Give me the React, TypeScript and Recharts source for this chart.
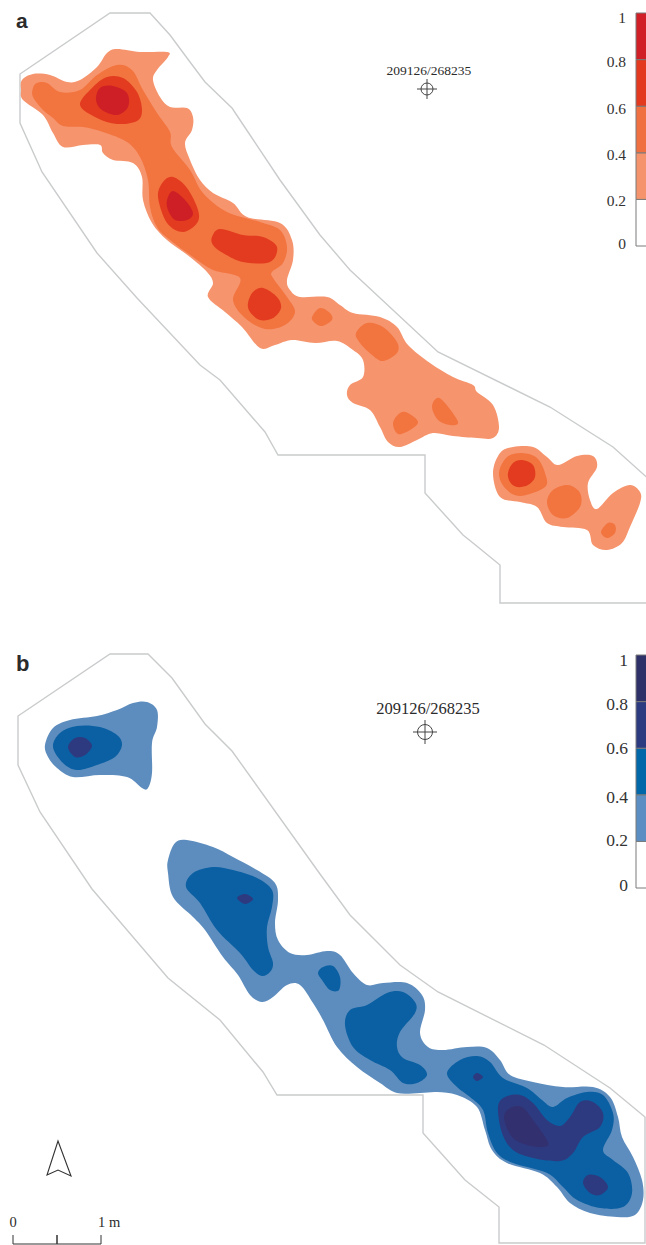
import { Bar, BarChart, Scatter, ScatterChart, XAxis, YAxis } from 'recharts';

type Pt = [number, number];

const WIDTH = 646;
const HEIGHT = 1245;

// legend
const levelKeys = ['l0', 'l1', 'l2', 'l3', 'l4'];
const levelWidths = [0.2, 0.2, 0.2, 0.2, 0.2];
const levelTicks = [0, 0.2, 0.4, 0.6, 0.8, 1];
const ORANGES = ['#FFFFFF', '#F5946C', '#F17042', '#E2391F', '#D01F27'];
const BLUES = ['#FFFFFF', '#5B8FC3', '#0068A8', '#2C3A80', '#2E3068'];
const mapColorsA = ['#F6946D', '#F2743F', '#E23B1F', '#CE1F26'];
const mapColorsB = ['#5D8DBE', '#0A60A2', '#2E3A80', '#33306F'];

// survey outlines
const outlineA: Pt[] = [
  [20, 74], [110, 13], [150, 13], [170, 35], [190, 62], [205, 82], [232, 108], [250, 135], [280, 180], [320, 235],
  [350, 270], [438, 352], [550, 407], [613, 447], [652, 482], [652, 603], [500, 603], [500, 565], [473, 543], [463, 535],
  [425, 493], [425, 455], [278, 455], [265, 432], [220, 380], [200, 365], [137, 298], [97, 253], [42, 172], [20, 123],
];
const outlineB: Pt[] = [
  [18, 716], [110, 654], [148, 654], [172, 678], [205, 724], [232, 751], [320, 874], [350, 915], [400, 965], [438, 992],
  [544, 1045], [610, 1088], [645, 1117], [645, 1243], [499, 1243], [499, 1207], [465, 1180], [423, 1133], [423, 1095],
  [277, 1095], [263, 1072], [220, 1020], [168, 978], [92, 889], [40, 812], [18, 765],
];

// panel a contours
const aLight1: Pt[] = [
  [22, 80], [33, 74], [50, 75], [67, 82], [80, 80], [97, 67], [107, 53], [117, 49], [140, 52], [167, 52], [168, 57], [157, 70],
  [153, 80], [160, 97], [170, 107], [187, 108], [193, 117], [192, 130], [185, 143], [190, 160], [200, 180], [213, 193], [233, 203],
  [247, 217], [280, 223], [292, 240], [293, 260], [287, 280], [290, 290], [300, 297], [327, 297], [340, 305], [353, 313], [380, 317],
  [397, 327], [408, 345], [430, 363], [453, 377], [473, 385], [477, 392], [493, 405], [499, 427], [493, 438], [477, 438], [453, 436],
  [433, 433], [417, 440], [400, 447], [388, 442], [380, 427], [370, 410], [353, 403], [347, 395], [350, 385], [363, 377], [363, 360],
  [353, 350], [337, 341], [315, 343], [292, 340], [275, 345], [260, 348], [242, 327], [225, 312], [208, 297], [213, 283],
  [207, 272], [190, 257], [167, 240], [152, 223], [143, 200], [142, 177], [133, 163], [113, 160], [103, 153], [100, 145], [83, 145],
  [63, 147], [53, 133], [43, 115], [23, 100], [21, 90],
];
const aLight2: Pt[] = [
  [493, 473], [500, 453], [513, 447], [533, 447], [547, 457], [558, 465], [577, 456], [593, 456], [597, 467], [588, 483], [590, 500],
  [597, 509], [613, 493], [630, 485], [640, 492], [640, 503], [630, 527], [622, 543], [607, 550], [593, 545], [587, 530], [563, 527],
  [547, 523], [537, 507], [520, 502], [500, 497],
];
const aMid1: Pt[] = [
  [33, 88], [37, 83], [47, 83], [60, 92], [80, 90], [97, 75], [117, 65], [132, 70], [143, 90], [157, 113], [170, 132], [172, 147],
  [190, 170], [203, 193], [227, 212], [260, 222], [280, 230], [287, 247], [283, 263], [272, 272], [273, 278], [287, 297], [295, 312],
  [285, 325], [265, 329], [245, 318], [233, 300], [240, 278], [213, 270], [193, 257], [170, 240], [157, 227], [150, 207],
  [148, 180], [140, 157], [127, 142], [103, 132], [83, 127], [63, 126], [53, 118], [43, 110], [33, 97],
];
const aMid2: Pt[] = [[312, 317], [320, 308], [330, 313], [332, 320], [322, 326], [315, 323]];
const aMid3: Pt[] = [[356, 333], [367, 323], [383, 327], [397, 342], [397, 353], [383, 361], [372, 355], [360, 343]];
const aMid4: Pt[] = [[393, 423], [400, 413], [408, 413], [418, 422], [410, 430], [398, 434]];
const aMid5: Pt[] = [[432, 407], [437, 398], [445, 403], [458, 422], [450, 425], [438, 420]];
const aMid6: Pt[] = [[499, 473], [507, 457], [522, 453], [537, 458], [545, 473], [545, 487], [520, 496], [505, 488]];
const aMid7: Pt[] = [[547, 502], [553, 490], [568, 485], [580, 493], [580, 507], [567, 518], [553, 515]];
const aMid8: Pt[] = [[601, 532], [608, 523], [615, 525], [615, 533], [607, 538]];
const aHigh1: Pt[] = [[80, 105], [92, 88], [107, 77], [123, 78], [137, 92], [142, 110], [137, 121], [117, 124], [97, 118]];
const aHigh2: Pt[] = [[158, 197], [163, 182], [173, 177], [187, 188], [198, 210], [197, 223], [183, 232], [167, 223]];
const aHigh3: Pt[] = [[212, 237], [220, 229], [243, 235], [263, 237], [277, 247], [270, 262], [243, 262], [223, 253], [213, 245]];
const aHigh4: Pt[] = [[248, 303], [253, 292], [263, 288], [277, 297], [281, 308], [273, 318], [260, 320], [250, 312]];
const aHigh5: Pt[] = [[508, 473], [513, 463], [522, 460], [533, 465], [535, 477], [528, 485], [517, 487], [510, 482]];
const aTop1: Pt[] = [[96, 100], [100, 88], [113, 86], [127, 93], [128, 107], [117, 115], [102, 110]];
const aTop2: Pt[] = [[167, 200], [173, 191], [185, 200], [193, 213], [187, 220], [175, 220], [168, 210]];

// panel b contours
const bLight1: Pt[] = [
  [45, 745], [53, 728], [70, 720], [97, 716], [117, 710], [133, 703], [147, 702], [157, 710], [157, 727], [152, 743], [152, 773],
  [148, 788], [142, 788], [127, 777], [100, 775], [73, 777], [57, 768], [48, 757],
];
const bLight2: Pt[] = [
  [168, 860], [175, 843], [187, 840], [213, 847], [233, 857], [257, 870], [275, 883], [278, 900], [275, 923], [278, 940], [290, 953],
  [307, 955], [327, 951], [340, 955], [353, 973], [367, 985], [383, 983], [407, 983], [422, 995], [425, 1010], [420, 1033], [428, 1047],
  [443, 1050], [467, 1047], [487, 1048], [500, 1060], [510, 1075], [533, 1082], [563, 1087], [593, 1087], [610, 1097], [618, 1117],
  [622, 1137], [633, 1157], [642, 1180], [643, 1200], [635, 1215], [617, 1217], [590, 1213], [570, 1203], [557, 1187], [540, 1173],
  [507, 1163], [492, 1150], [485, 1130], [477, 1107], [457, 1095], [437, 1092], [420, 1093], [397, 1093], [380, 1083], [357, 1067],
  [337, 1047], [323, 1020], [313, 1003], [300, 985], [287, 985], [273, 997], [262, 1002], [250, 995], [238, 975], [223, 957], [205, 930],
  [193, 917], [173, 897], [168, 873],
];
const bMid1: Pt[] = [[53, 747], [60, 733], [77, 726], [100, 727], [117, 735], [122, 745], [115, 757], [97, 765], [77, 770], [63, 763]];
const bMid2: Pt[] = [
  [186, 887], [193, 873], [213, 867], [233, 870], [257, 878], [272, 890], [272, 907], [267, 927], [268, 947], [273, 963], [270, 972],
  [262, 976], [253, 970], [240, 953], [217, 930], [200, 903],
];
const bMid3: Pt[] = [[318, 973], [323, 967], [333, 966], [340, 977], [339, 990], [330, 990], [322, 980]];
const bMid4: Pt[] = [
  [345, 1025], [350, 1010], [367, 1005], [387, 993], [403, 992], [415, 1002], [415, 1013], [400, 1032], [397, 1047], [403, 1058],
  [420, 1065], [427, 1075], [417, 1083], [403, 1083], [390, 1070], [370, 1060], [353, 1047],
];
const bMid5: Pt[] = [
  [447, 1073], [460, 1060], [477, 1056], [490, 1062], [503, 1078], [527, 1088], [542, 1100], [553, 1107], [567, 1098], [587, 1092],
  [603, 1095], [613, 1113], [612, 1130], [603, 1150], [613, 1160], [628, 1173], [632, 1193], [623, 1207], [600, 1208], [577, 1200],
  [563, 1187], [547, 1173], [513, 1163], [497, 1153], [488, 1133], [483, 1110], [470, 1097], [457, 1087],
];
const bHigh1: Pt[] = [
  [498, 1107], [505, 1097], [520, 1095], [533, 1103], [547, 1120], [560, 1126], [570, 1117], [580, 1102], [593, 1102], [603, 1113],
  [600, 1127], [583, 1137], [573, 1153], [560, 1161], [533, 1158], [513, 1150], [502, 1133],
];
const bHigh2: Pt[] = [[583, 1183], [588, 1175], [600, 1177], [608, 1187], [600, 1195], [590, 1193]];
const bHigh3: Pt[] = [[473, 1077], [477, 1073], [483, 1077], [477, 1081]];
const bHigh4: Pt[] = [[237, 898], [245, 894], [253, 899], [245, 904]];
const bHigh5: Pt[] = [[68, 747], [75, 738], [85, 738], [92, 746], [85, 755], [75, 757]];
const bTop1: Pt[] = [[504, 1118], [510, 1108], [522, 1107], [533, 1120], [548, 1142], [543, 1147], [527, 1145], [512, 1137]];

// north arrow and scale bar
const northArrow: Pt[] = [[58, 1141], [47, 1175], [58, 1170], [71, 1176]];
const scaleBar: Pt[] = [[13, 1235], [13, 1244], [57, 1244], [57, 1235], [57, 1244], [101, 1244], [101, 1235]];

const contourLayers: { pts: Pt[]; color: string }[] = [
  ...[aLight1, aLight2].map((pts) => ({ pts, color: mapColorsA[0] })),
  ...[aMid1, aMid2, aMid3, aMid4, aMid5, aMid6, aMid7, aMid8].map((pts) => ({ pts, color: mapColorsA[1] })),
  ...[aHigh1, aHigh2, aHigh3, aHigh4, aHigh5].map((pts) => ({ pts, color: mapColorsA[2] })),
  ...[aTop1, aTop2].map((pts) => ({ pts, color: mapColorsA[3] })),
  ...[bLight1, bLight2].map((pts) => ({ pts, color: mapColorsB[0] })),
  ...[bMid1, bMid2, bMid3, bMid4, bMid5].map((pts) => ({ pts, color: mapColorsB[1] })),
  ...[bHigh1, bHigh2, bHigh3, bHigh4, bHigh5].map((pts) => ({ pts, color: mapColorsB[2] })),
  ...[bTop1].map((pts) => ({ pts, color: mapColorsB[3] })),
];

const benchmarks = [
  { x: 427, y: 89, r: 6, arm: 10 },
  { x: 425, y: 732, r: 7.5, arm: 12 },
];

const SERIF = '"Liberation Serif", serif';
const SANS = '"Liberation Sans", sans-serif';
const annotations = [
  { x: 16, y: 28, text: 'a', size: 21, family: SANS, weight: 700, anchor: 'start' },
  { x: 16, y: 671, text: 'b', size: 22, family: SANS, weight: 700, anchor: 'start' },
  { x: 429, y: 75, text: '209126/268235', size: 13.5, family: SERIF, weight: 400, anchor: 'middle' },
  { x: 428, y: 714, text: '209126/268235', size: 16.5, family: SERIF, weight: 400, anchor: 'middle' },
  { x: 13, y: 1227, text: '0', size: 14.5, family: SERIF, weight: 400, anchor: 'middle' },
  { x: 98, y: 1227, text: '1 m', size: 14.5, family: SERIF, weight: 400, anchor: 'start' },
];

const toPoints = (pts: Pt[]) => pts.map(([x, y]) => ({ x, y }));

// closed catmull-rom, d3 curve factory; the contours pass through the points
function closedSpline(context: any) {
  let pts: Pt[] = [];
  return {
    areaStart() {},
    areaEnd() {},
    lineStart() {
      pts = [];
    },
    point(x: number, y: number) {
      pts.push([x, y]);
    },
    lineEnd() {
      const n = pts.length;
      context.moveTo(pts[0][0], pts[0][1]);
      for (let i = 0; i < n; i++) {
        const p0 = pts[(i - 1 + n) % n];
        const p1 = pts[i];
        const p2 = pts[(i + 1) % n];
        const p3 = pts[(i + 2) % n];
        context.bezierCurveTo(
          p1[0] + (p2[0] - p0[0]) / 6,
          p1[1] + (p2[1] - p0[1]) / 6,
          p2[0] - (p3[0] - p1[0]) / 6,
          p2[1] - (p3[1] - p1[1]) / 6,
          p2[0],
          p2[1]
        );
      }
      context.closePath();
    },
  };
}

const NoMarker = () => null;

function BenchmarkMark({ cx, cy, payload }: any) {
  const { r, arm } = payload;
  return (
    <g stroke="#444" strokeWidth={1} fill="none">
      <circle cx={cx} cy={cy} r={r} />
      <line x1={cx - arm} y1={cy} x2={cx + arm} y2={cy} />
      <line x1={cx} y1={cy - arm} x2={cx} y2={cy + arm} />
    </g>
  );
}

function AnnotationText({ cx, cy, payload }: any) {
  return (
    <text
      x={cx}
      y={cy}
      textAnchor={payload.anchor}
      fill="#2b2b2b"
      style={{ fontFamily: payload.family, fontSize: payload.size, fontWeight: payload.weight }}
    >
      {payload.text}
    </text>
  );
}

function LegendTick({ x, y, payload, fontSize, nudge }: any) {
  return (
    <text
      x={x}
      y={y + (nudge[payload.value] ?? 0)}
      textAnchor="end"
      dominantBaseline="central"
      fill="#333"
      style={{ fontFamily: SERIF, fontSize }}
    >
      {payload.value}
    </text>
  );
}

function LevelBar({ top, colors, fontSize, nudge, tickMargin }: any) {
  const row: Record<string, any> = { name: 'level' };
  levelKeys.forEach((k, i) => {
    row[k] = levelWidths[i];
  });
  return (
    <div style={{ position: 'absolute', left: 590, top, width: 90, height: 249 }}>
      <BarChart width={90} height={249} data={[row]} margin={{ top: 8, right: 0, bottom: 8, left: 0 }} barCategoryGap={0}>
        <XAxis dataKey="name" hide />
        <YAxis
          type="number"
          domain={[0, 1]}
          ticks={levelTicks}
          width={46}
          interval={0}
          axisLine={false}
          tickLine={false}
          tickMargin={tickMargin}
          tick={(p: any) => <LegendTick {...p} fontSize={fontSize} nudge={nudge} />}
        />
        {levelKeys.map((k, i) => (
          <Bar key={k} dataKey={k} stackId="levels" fill={colors[i]} stroke="#7a7a7a" strokeWidth={1} isAnimationActive={false} />
        ))}
      </BarChart>
    </div>
  );
}

export default function App() {
  return (
    <div style={{ position: 'absolute', left: 0, top: 0, width: WIDTH, height: HEIGHT, overflow: 'hidden', background: '#fff' }}>
      <ScatterChart width={WIDTH} height={HEIGHT} margin={{ top: 0, right: 0, bottom: 0, left: 0 }}>
        <XAxis type="number" dataKey="x" domain={[0, WIDTH]} hide allowDataOverflow />
        <YAxis type="number" dataKey="y" domain={[0, HEIGHT]} reversed hide allowDataOverflow width={0} />
        {[outlineA, outlineB].map((pts, i) => (
          <Scatter
            key={`outline-${i}`}
            data={toPoints(pts)}
            line={{ stroke: '#c9cbcc', strokeWidth: 1.4, fill: 'none' }}
            lineJointType="linearClosed"
            shape={NoMarker}
            isAnimationActive={false}
          />
        ))}
        {contourLayers.map((layer, i) => (
          <Scatter
            key={`contour-${i}`}
            data={toPoints(layer.pts)}
            line={{ fill: layer.color, stroke: 'none' }}
            lineJointType={closedSpline as any}
            shape={NoMarker}
            isAnimationActive={false}
          />
        ))}
        <Scatter
          data={toPoints(northArrow)}
          line={{ stroke: '#333', strokeWidth: 1.1, fill: 'none' }}
          lineJointType="linearClosed"
          shape={NoMarker}
          isAnimationActive={false}
        />
        <Scatter
          data={toPoints(scaleBar)}
          line={{ stroke: '#333', strokeWidth: 1, fill: 'none' }}
          lineJointType="linear"
          shape={NoMarker}
          isAnimationActive={false}
        />
        <Scatter data={benchmarks} shape={BenchmarkMark} isAnimationActive={false} />
        <Scatter data={annotations} shape={AnnotationText} isAnimationActive={false} />
      </ScatterChart>
      <LevelBar top={5} colors={ORANGES} fontSize={15.5} tickMargin={4} nudge={{ 1: 4, 0.8: 2, 0.6: 2, 0.4: 2, 0.2: 1, 0: -3 }} />
      <LevelBar top={647} colors={BLUES} fontSize={17.5} tickMargin={2} nudge={{ 1: 5, 0.8: 2, 0.6: 0, 0.4: 2, 0.2: -1, 0: -3 }} />
    </div>
  );
}
